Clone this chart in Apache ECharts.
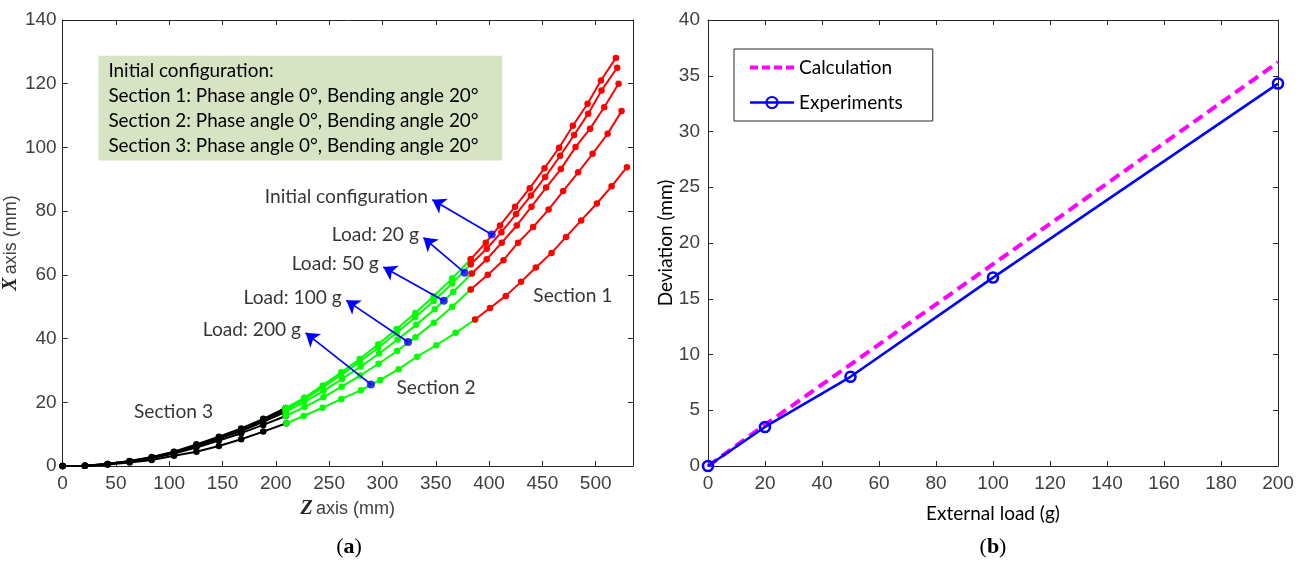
<!DOCTYPE html>
<html>
<head>
<meta charset="utf-8">
<script src="https://cdn.jsdelivr.net/npm/echarts@6/dist/echarts.min.js"></script>
<style>
  html, body { margin: 0; padding: 0; background: #fff; }
  #chart { width: 1309px; height: 561px; }
</style>
</head>
<body>
<div id="chart"></div>
<script>
// ---------- (a) shape of the three-section arm, Z (mm) vs X (mm) ----------
const configNames = ['Initial configuration', 'Load: 20 g', 'Load: 50 g', 'Load: 100 g', 'Load: 200 g'];

// Section 3 (base, black)
const sec3Z = [
  [0, 20.9, 42.2, 62.9, 83.6, 104.5, 125.5, 146.6, 167.5, 188.2, 209.2],
  [0, 20.9, 42.2, 62.9, 83.6, 104.5, 125.5, 146.6, 167.5, 188.2, 209.2],
  [0, 20.9, 42.2, 62.9, 83.6, 104.5, 125.5, 146.6, 167.5, 188.2, 209.2],
  [0, 20.9, 42.2, 62.9, 83.6, 104.5, 125.5, 146.6, 167.5, 188.2, 209.2],
  [0, 20.9, 42.2, 62.9, 83.6, 104.5, 125.5, 146.6, 167.5, 188.2, 209.9]
];
const sec3X = [
  [0, 0.1, 0.6, 1.6, 2.8, 4.5, 6.8, 9.2, 11.8, 14.8, 18.2],
  [0, 0.1, 0.6, 1.5, 2.7, 4.4, 6.6, 9.0, 11.5, 14.4, 17.6],
  [0, 0.1, 0.6, 1.5, 2.6, 4.2, 6.3, 8.6, 11.0, 13.9, 17.0],
  [0, 0.1, 0.5, 1.4, 2.4, 3.9, 5.8, 8.0, 10.3, 12.9, 15.7],
  [0, 0.1, 0.5, 1.1, 1.9, 3.2, 4.5, 6.3, 8.4, 10.8, 13.4]
];

// Section 2 (middle, green)
const sec2Z = [
  [209.2, 226.7, 244.0, 261.4, 278.7, 296.1, 313.4, 330.8, 348.1, 365.5, 382.8],
  [209.2, 226.6, 244.0, 261.3, 278.7, 296.0, 313.4, 330.7, 348.1, 365.4, 382.8],
  [209.2, 226.8, 244.8, 262.1, 279.5, 296.9, 314.3, 331.7, 349.0, 366.4, 383.8],
  [209.2, 226.9, 244.6, 261.8, 279.1, 296.4, 313.7, 331.0, 348.2, 365.5, 382.8],
  [209.9, 226.1, 243.9, 261.4, 279.9, 298.0, 315.2, 332.5, 350.6, 368.7, 386.9]
];
const sec2X = [
  [18.2, 21.4, 25.3, 29.4, 33.6, 38.2, 43.0, 48.0, 53.3, 58.9, 64.9],
  [17.6, 20.9, 24.6, 28.6, 32.7, 37.1, 41.8, 46.7, 51.8, 57.3, 63.3],
  [17.0, 20.1, 23.6, 27.3, 31.2, 35.3, 39.7, 44.3, 49.2, 54.6, 60.4],
  [15.7, 18.5, 21.6, 24.9, 28.4, 32.1, 36.1, 40.4, 45.0, 50.0, 55.4],
  [13.4, 15.7, 18.3, 21.0, 23.8, 27.0, 30.4, 34.3, 37.9, 41.8, 46.0]
];

// Section 1 (tip, red)
const sec1Z = [
  [382.8, 396.9, 410.3, 424.4, 438.2, 452.0, 465.7, 478.6, 492.4, 504.9, 519.0],
  [382.8, 397.8, 411.6, 425.4, 439.2, 452.6, 466.7, 479.8, 493.0, 505.5, 520.2],
  [383.8, 397.8, 411.9, 426.0, 439.8, 453.5, 467.3, 481.1, 494.8, 508.0, 521.5],
  [382.8, 398.8, 413.5, 427.2, 441.3, 455.8, 469.5, 483.6, 497.1, 511.2, 524.3],
  [386.9, 400.9, 415.7, 430.0, 443.9, 458.6, 472.3, 486.4, 501.1, 514.9, 529.3]
];
const sec1X = [
  [64.9, 70.1, 75.5, 81.4, 87.2, 93.5, 99.9, 106.8, 113.7, 121.0, 128.1],
  [63.3, 68.2, 73.4, 79.1, 84.9, 90.7, 97.4, 103.9, 110.6, 117.9, 125.0],
  [60.4, 64.9, 70.1, 75.5, 81.4, 87.4, 93.2, 100.1, 105.9, 112.6, 120.0],
  [55.4, 60.0, 64.6, 70.1, 75.0, 80.5, 86.3, 92.2, 98.0, 104.3, 111.4],
  [46.0, 49.6, 53.4, 57.8, 62.3, 66.9, 71.9, 77.1, 82.4, 87.8, 93.8]
];

// Marked points on each configuration and where their callout arrows point
const markerZ = [402.5, 377.0, 357.5, 324.0, 289.2];
const markerX = [72.7, 60.7, 51.9, 38.9, 25.6];
const calloutZ = [346.8, 338.4, 300.8, 266.1, 227.9];
const calloutX = [83.6, 71.7, 62.5, 52.0, 41.8];

// Section names and their anchors (data units)
const sectionNames = ['Section 1', 'Section 2', 'Section 3'];
const sectionZ = [478.6, 350.2, 104.0];
const sectionX = [53.3, 24.5, 16.9];

// Note box
const noteLines = [
  'Initial configuration:',
  'Section 1: Phase angle 0\u00b0, Bending angle 20\u00b0',
  'Section 2: Phase angle 0\u00b0, Bending angle 20\u00b0',
  'Section 3: Phase angle 0\u00b0, Bending angle 20\u00b0'
];
const noteCorners = [[33.6, 128.8], [412.4, 95.9]];

// ---------- (b) deviation vs external load ----------
const loads = [0, 20, 50, 100, 200];
const calculation = [0, 3.7, 9.1, 18.1, 36.2];
const experiments = [0, 3.5, 8.0, 16.9, 34.3];

// ---------- styling ----------
const UI_FONT = 'Lato, "Open Sans", sans-serif';
const TICK_FONT = '"Liberation Sans", Arial, sans-serif';
const AXIS_COLOR = '#262626';
const TICK_COLOR = '#404040';
const TEXT_SIZE = 19.2;

function mainAxis(extra) {
  return Object.assign({
    type: 'value',
    axisLine: { show: true, onZero: false, lineStyle: { color: AXIS_COLOR, width: 1 } },
    axisTick: { show: true, inside: true, length: 5, lineStyle: { color: AXIS_COLOR } },
    axisLabel: { show: true, fontFamily: TICK_FONT, fontSize: 19, color: TICK_COLOR },
    splitLine: { show: false }
  }, extra);
}
function frameAxis(extra) {
  return Object.assign({
    type: 'value',
    axisLine: { show: true, onZero: false, lineStyle: { color: AXIS_COLOR, width: 1 } },
    axisTick: { show: true, inside: true, length: 5, lineStyle: { color: AXIS_COLOR } },
    axisLabel: { show: false },
    splitLine: { show: false }
  }, extra);
}

function curve(zs, xs, color, zLevel) {
  return {
    type: 'line',
    xAxisIndex: 0, yAxisIndex: 0,
    data: zs.map((z, k) => [z, xs[k]]),
    symbol: 'circle', symbolSize: 6.5,
    showSymbol: true, showAllSymbol: true,
    lineStyle: { color: color, width: 2 },
    itemStyle: { color: color },
    z: zLevel,
    silent: true
  };
}

const series = [];
for (let i = 0; i < configNames.length; i++) series.push(curve(sec3Z[i], sec3X[i], '#000000', 2));
for (let i = 0; i < configNames.length; i++) series.push(curve(sec2Z[i], sec2X[i], '#00ff00', 3));
for (let i = 0; i < configNames.length; i++) series.push(curve(sec1Z[i], sec1X[i], '#ff0000', 4));

// marked points, callout arrows and note box
series.push({
  type: 'scatter',
  xAxisIndex: 0, yAxisIndex: 0,
  data: markerZ.map((z, i) => [z, markerX[i]]),
  symbol: 'circle', symbolSize: 8,
  itemStyle: { color: '#0000ff' },
  z: 6,
  silent: true,
  markLine: {
    silent: true,
    symbol: ['none', 'arrow'],
    symbolSize: 13,
    lineStyle: { color: '#0000ff', width: 1.7, type: 'solid' },
    label: { show: false },
    data: markerZ.map((z, i) => [
      { coord: [z, markerX[i]] },
      { coord: [calloutZ[i], calloutX[i]] }
    ])
  },
  markArea: {
    silent: true,
    itemStyle: { color: '#d6e4c3', opacity: 1 },
    label: {
      show: true,
      position: 'insideLeft',
      distance: 10,
      formatter: noteLines.join('\n'),
      fontFamily: UI_FONT,
      fontSize: 18.9,
      lineHeight: 25,
      color: '#000'
    },
    data: [[{ coord: noteCorners[0] }, { coord: noteCorners[1] }]]
  }
});

// callout texts
series.push({
  type: 'scatter',
  xAxisIndex: 0, yAxisIndex: 0,
  data: calloutZ.map((z, i) => ({ name: configNames[i], value: [z, calloutX[i]] })),
  symbol: 'circle', symbolSize: 1,
  itemStyle: { color: 'rgba(0,0,0,0)' },
  label: {
    show: true, position: 'left', distance: 4, offset: [0, -3],
    formatter: '{b}', fontFamily: UI_FONT, fontSize: TEXT_SIZE, color: '#000'
  },
  z: 7, silent: true
});

// section texts
series.push({
  type: 'scatter',
  xAxisIndex: 0, yAxisIndex: 0,
  data: sectionZ.map((z, i) => ({ name: sectionNames[i], value: [z, sectionX[i]] })),
  symbol: 'circle', symbolSize: 1,
  itemStyle: { color: 'rgba(0,0,0,0)' },
  label: {
    show: true, position: 'inside',
    formatter: '{b}', fontFamily: UI_FONT, fontSize: TEXT_SIZE, color: '#000'
  },
  z: 7, silent: true
});

// right panel series
series.push({
  name: 'Calculation',
  type: 'line',
  xAxisIndex: 2, yAxisIndex: 2,
  data: loads.map((l, i) => [l, calculation[i]]),
  symbol: 'none', showSymbol: false,
  lineStyle: { color: '#ff00ff', width: 4, type: [11, 6] },
  itemStyle: { color: '#ff00ff' },
  z: 3, silent: true
});
series.push({
  name: 'Experiments',
  type: 'line',
  xAxisIndex: 2, yAxisIndex: 2,
  data: loads.map((l, i) => [l, experiments[i]]),
  symbol: 'circle', symbolSize: 10,
  showSymbol: true, showAllSymbol: true,
  lineStyle: { color: '#0000ff', width: 2.6 },
  itemStyle: { color: 'rgba(255,255,255,0)', borderColor: '#0000ff', borderWidth: 2.6 },
  z: 4, silent: true
});

const option = {
  animation: false,
  backgroundColor: '#ffffff',
  grid: [
    { left: 62, top: 20, width: 571, height: 446, show: false },
    { left: 708, top: 20, width: 570, height: 446, show: false }
  ],
  xAxis: [
    mainAxis({
      gridIndex: 0, position: 'bottom', min: 0, max: 535, interval: 50,
      axisLabel: { show: true, fontFamily: TICK_FONT, fontSize: 19, color: TICK_COLOR, margin: 8, showMaxLabel: false },
      name: '{v|Z} {t|axis (mm)}',
      nameLocation: 'middle', nameGap: 33,
      nameTextStyle: {
        rich: {
          v: { fontFamily: '"Liberation Serif", serif', fontStyle: 'italic', fontWeight: 'bold', fontSize: 20, color: '#262626' },
          t: { fontFamily: '"Liberation Sans Narrow", "Liberation Sans", sans-serif', fontSize: 18, color: '#404040' }
        }
      }
    }),
    frameAxis({ gridIndex: 0, position: 'top', min: 0, max: 535, interval: 50 }),
    mainAxis({
      gridIndex: 1, position: 'bottom', min: 0, max: 200, interval: 20,
      axisLabel: { show: true, fontFamily: TICK_FONT, fontSize: 19, color: TICK_COLOR, margin: 8 },
      name: 'External load (g)',
      nameLocation: 'middle', nameGap: 38,
      nameTextStyle: { fontFamily: UI_FONT, fontSize: 19, color: '#000' }
    }),
    frameAxis({ gridIndex: 1, position: 'top', min: 0, max: 200, interval: 20 })
  ],
  yAxis: [
    mainAxis({
      gridIndex: 0, position: 'left', min: 0, max: 140, interval: 20,
      axisLabel: { show: true, fontFamily: TICK_FONT, fontSize: 19, color: TICK_COLOR, margin: 6 },
      name: '{v|X} {t|axis (mm)}',
      nameLocation: 'middle', nameGap: 36,
      nameTextStyle: {
        rich: {
          v: { fontFamily: '"Liberation Serif", serif', fontStyle: 'italic', fontWeight: 'bold', fontSize: 20, color: '#262626' },
          t: { fontFamily: '"Liberation Sans Narrow", "Liberation Sans", sans-serif', fontSize: 18, color: '#404040' }
        }
      }
    }),
    frameAxis({ gridIndex: 0, position: 'right', min: 0, max: 140, interval: 20 }),
    mainAxis({
      gridIndex: 1, position: 'left', min: 0, max: 40, interval: 5,
      axisLabel: { show: true, fontFamily: TICK_FONT, fontSize: 19, color: TICK_COLOR, margin: 8 },
      name: 'Deviation (mm)',
      nameLocation: 'middle', nameGap: 27,
      nameTextStyle: { fontFamily: UI_FONT, fontSize: 19, color: '#000' }
    }),
    frameAxis({ gridIndex: 1, position: 'right', min: 0, max: 40, interval: 5 })
  ],
  legend: {
    data: [
      {
        name: 'Calculation',
        itemStyle: { color: 'rgba(0,0,0,0)', borderWidth: 0 },
        lineStyle: { color: '#ff00ff', width: 4, type: [8, 4] }
      },
      {
        name: 'Experiments',
        lineStyle: { color: '#0000ff', width: 2.6 }
      }
    ],
    orient: 'vertical',
    left: 734, top: 49,
    itemWidth: 44, itemHeight: 14, itemGap: 16,
    padding: [9, 30, 9, 14],
    borderColor: AXIS_COLOR, borderWidth: 1,
    backgroundColor: '#ffffff',
    selectedMode: false,
    textStyle: { fontFamily: UI_FONT, fontSize: 19, color: '#000' }
  },
  graphic: [
    {
      type: 'text', x: 349, y: 547,
      style: {
        text: '({b|a})', align: 'center', verticalAlign: 'middle',
        font: '22px "Liberation Serif", serif', fill: '#000',
        rich: { b: { fontWeight: 'bold', fontSize: 22, fontFamily: '"Liberation Serif", serif', fill: '#000' } }
      }
    },
    {
      type: 'text', x: 993, y: 547,
      style: {
        text: '({b|b})', align: 'center', verticalAlign: 'middle',
        font: '22px "Liberation Serif", serif', fill: '#000',
        rich: { b: { fontWeight: 'bold', fontSize: 22, fontFamily: '"Liberation Serif", serif', fill: '#000' } }
      }
    }
  ],
  series: series
};

const chart = echarts.init(document.getElementById('chart'), null, { renderer: 'canvas' });
chart.setOption(option);
</script>
</body>
</html>
